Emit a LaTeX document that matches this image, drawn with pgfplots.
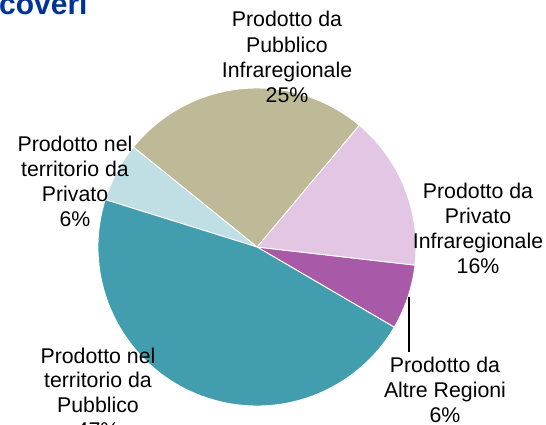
\documentclass[border=0pt]{standalone}
\usepackage{pgfplots}
\usepackage{pgfplotstable}
\pgfplotsset{compat=1.18}
\usepackage{fontspec}
\setmainfont{Liberation Sans}
\definecolor{cAltre}{HTML}{A85AA8}
\definecolor{cPrivInf}{HTML}{E3C6E3}
\definecolor{cPubInf}{HTML}{BEB996}
\definecolor{cPrivTer}{HTML}{C0DFE4}
\definecolor{cPubTer}{HTML}{429EAE}
\definecolor{cTitle}{HTML}{003399}
\pgfplotstableread{
value color
6.6 cAltre
15.7 cPrivInf
25.3 cPubInf
6.0 cPrivTer
46.4 cPubTer
}\piedata
\newcommand{\labfont}{\fontsize{21.3bp}{25bp}\selectfont}
\begin{document}
\begin{tikzpicture}
\begin{axis}[x=1bp,y=1bp,xmin=0,xmax=546,ymin=0,ymax=425,
  scale only axis,hide axis,clip=false,anchor=origin,at={(0,0)}]
\def\cumangle{-30.3}
\pgfplotsforeachungrouped \i in {0,1,2,3,4}{%
  \pgfplotstablegetelem{\i}{value}\of\piedata \let\val\pgfplotsretval
  \pgfplotstablegetelem{\i}{color}\of\piedata \let\col\pgfplotsretval
  \pgfmathsetmacro\endangle{\cumangle+3.6*\val}%
  \edef\temp{\noexpand\fill[\col, draw=white, line width=0.9bp, line join=round] (axis cs:257,178) -- ++(\cumangle:159bp) arc[start angle=\cumangle, end angle=\endangle, radius=159bp] -- cycle;}%
  \temp
  \global\let\cumangle\endangle
}
\addplot[black, line width=1.3bp, no marks] coordinates {(409,128) (409,73)};
% labels
\node[anchor=base, inner sep=0, font=\labfont] at (axis cs:287,398) {Prodotto da};
\node[anchor=base, inner sep=0, font=\labfont] at (axis cs:287,373) {Pubblico};
\node[anchor=base, inner sep=0, font=\labfont] at (axis cs:287,348) {Infraregionale};
\node[anchor=base, inner sep=0, font=\labfont] at (axis cs:287,323) {25\%};
\node[anchor=base, inner sep=0, font=\labfont] at (axis cs:75,274) {Prodotto nel};
\node[anchor=base, inner sep=0, font=\labfont] at (axis cs:75,249) {territorio da};
\node[anchor=base, inner sep=0, font=\labfont] at (axis cs:75,224) {Privato};
\node[anchor=base, inner sep=0, font=\labfont] at (axis cs:75,199) {6\%};
\node[anchor=base, inner sep=0, font=\labfont] at (axis cs:478,227) {Prodotto da};
\node[anchor=base, inner sep=0, font=\labfont] at (axis cs:478,202) {Privato};
\node[anchor=base, inner sep=0, font=\labfont] at (axis cs:478,177) {Infraregionale};
\node[anchor=base, inner sep=0, font=\labfont] at (axis cs:478,152) {16\%};
\node[anchor=base, inner sep=0, font=\labfont] at (axis cs:445,53) {Prodotto da};
\node[anchor=base, inner sep=0, font=\labfont] at (axis cs:445,28) {Altre Regioni};
\node[anchor=base, inner sep=0, font=\labfont] at (axis cs:445,3) {6\%};
\node[anchor=base, inner sep=0, font=\labfont] at (axis cs:98,62) {Prodotto nel};
\node[anchor=base, inner sep=0, font=\labfont] at (axis cs:98,38) {territorio da};
\node[anchor=base, inner sep=0, font=\labfont] at (axis cs:98,13) {Pubblico};
\node[anchor=base, inner sep=0, font=\labfont] at (axis cs:98,-12) {47\%};
\node[anchor=base west, inner sep=0, font=\fontsize{30bp}{33bp}\selectfont\bfseries, text=cTitle] at (axis cs:-1,410) {coveri};
\end{axis}
\pgfresetboundingbox
\path[use as bounding box] (0,0) rectangle (546bp,425bp);
\end{tikzpicture}
\end{document}
